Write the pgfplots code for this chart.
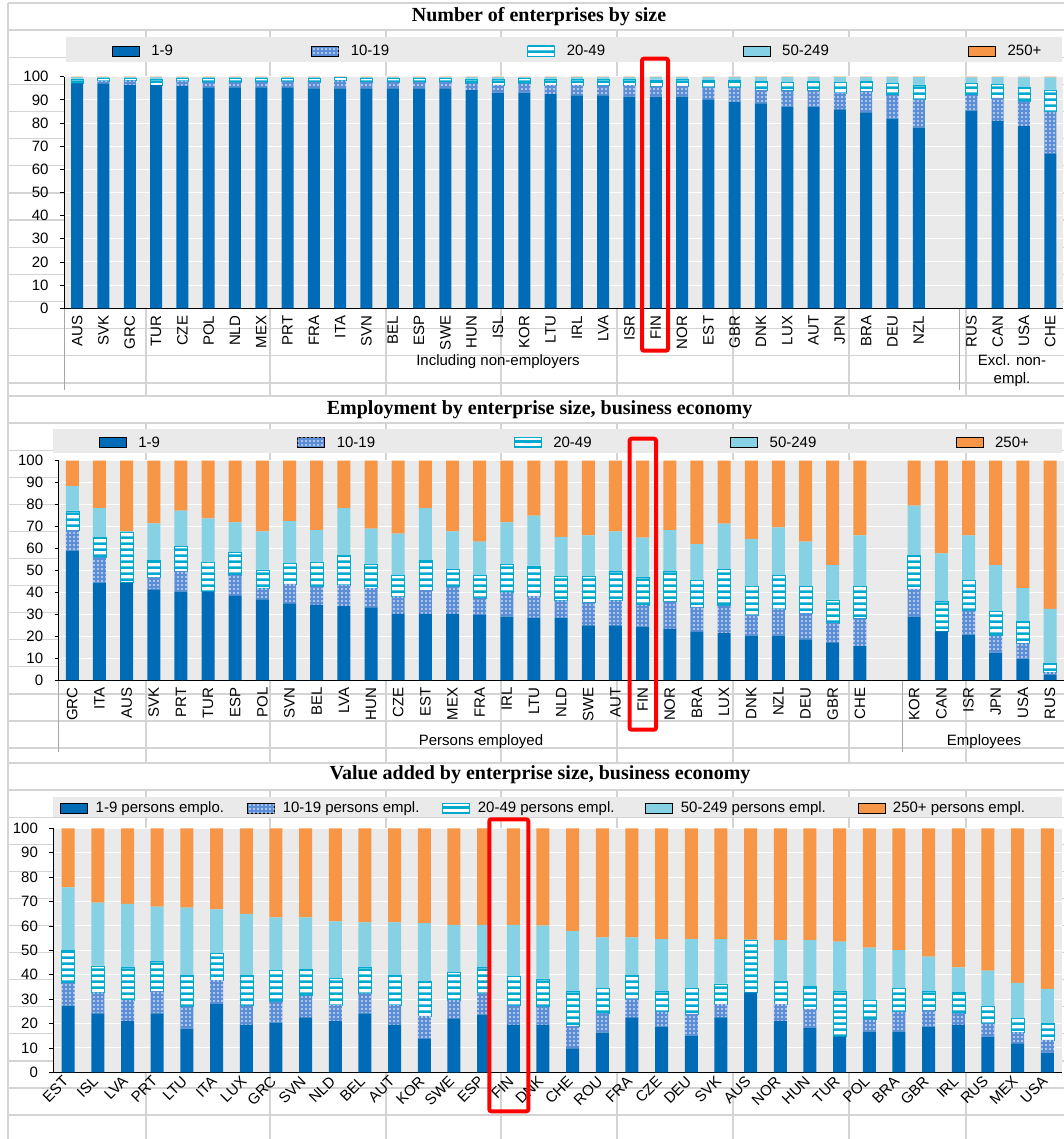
\documentclass[border=0pt]{standalone}
\usepackage{fontspec}
\setmainfont{Liberation Sans}
\newfontfamily\titlefont{Liberation Serif}
\usepackage{pgfplots}
\pgfplotsset{compat=1.18}
\usepackage{pgfplotstable}
\usetikzlibrary{patterns,patterns.meta}

\definecolor{c1}{HTML}{006BB6}
\definecolor{c2}{HTML}{5B8ED6}
\definecolor{c3}{HTML}{00A9CE}
\definecolor{c4}{HTML}{86D1E4}
\definecolor{c5}{HTML}{F79646}
\definecolor{bgc}{HTML}{EAEAEA}
\definecolor{cellc}{HTML}{D4D4D4}
\definecolor{sepc}{HTML}{A6A6A6}
\newcommand\fs{\fontsize{15}{18}\selectfont}
\newcommand\tfs{\titlefont\bfseries\fontsize{20}{24}\selectfont}

\pgfdeclarepatternformonly{hstripes}{\pgfqpoint{0pt}{0pt}}{\pgfqpoint{6pt}{6pt}}{\pgfqpoint{6pt}{6pt}}{%
  \pgfpathrectangle{\pgfqpoint{-1pt}{0pt}}{\pgfqpoint{8pt}{3pt}}\pgfusepath{fill}}
\pgfdeclarepatternformonly{wdots}{\pgfqpoint{-1pt}{-1pt}}{\pgfqpoint{5pt}{5pt}}{\pgfqpoint{4pt}{4pt}}{%
  \pgfpathcircle{\pgfqpoint{2pt}{2pt}}{0.9pt}\pgfusepath{fill}}

\pgfplotstableread{
lab x a b c d e
AUS 0 97.1 0 2.0 0.7 0.2
SVK 1 97.1 1.1 1.0 0.6 0.2
GRC 2 96.4 1.9 1.0 0.5 0.2
TUR 3 96.4 0 2.6 0.8 0.2
CZE 4 96.0 2.1 1.3 0.4 0.2
POL 5 95.4 2.2 1.6 0.6 0.2
NLD 6 95.4 2.2 1.6 0.6 0.2
MEX 7 95.4 2.4 1.5 0.5 0.2
PRT 8 95.4 2.5 1.5 0.4 0.2
FRA 9 95.0 2.8 1.5 0.5 0.2
ITA 10 95.0 3.3 1.3 0.3 0.1
SVN 11 95.0 2.7 1.6 0.5 0.2
BEL 12 95.0 2.8 1.5 0.5 0.2
ESP 13 95.0 2.7 1.6 0.5 0.2
SWE 14 95.0 2.7 1.6 0.5 0.2
HUN 15 94.2 2.9 2.0 0.7 0.2
ISL 16 93.1 3.4 2.4 0.9 0.2
KOR 17 93.1 3.9 2.2 0.6 0.2
LTU 18 92.5 4.0 2.5 0.8 0.2
IRL 19 91.9 4.6 2.5 0.8 0.2
LVA 20 91.9 4.2 2.8 0.9 0.2
ISR 21 91.4 5.0 2.5 0.9 0.2
FIN 22 91.4 4.4 2.8 1.2 0.2
NOR 23 91.4 4.6 2.7 1.1 0.2
EST 24 90.2 5.2 3.1 1.3 0.2
GBR 25 89.2 6.1 3.2 1.3 0.2
DNK 26 88.5 5.8 3.6 1.9 0.2
LUX 27 87.1 6.9 3.8 2.0 0.2
AUT 28 87.1 7.0 3.9 1.8 0.2
JPN 29 85.9 7.0 4.8 2.1 0.2
BRA 30 84.6 9.1 4.4 1.7 0.2
DEU 31 81.9 10.2 5.2 2.5 0.2
NZL 32 78.0 12.2 6.3 3.3 0.2
RUS 34 85.3 6.8 5.0 2.6 0.3
CAN 35 80.9 10.0 5.9 3.0 0.2
USA 36 78.7 10.5 6.2 4.3 0.3
CHE 37 66.9 18.0 9.4 5.4 0.3
}\tabA

\pgfplotstableread{
lab x a b c d e
GRC 0 59.0 9.4 8.7 11.3 11.6
ITA 1 44.4 11.4 9.5 13.1 21.6
AUS 2 44.4 0 23.2 0.2 32.2
SVK 3 41.3 5.5 7.9 16.7 28.6
PRT 4 40.3 9.4 11.4 16.1 22.8
TUR 5 40.3 0 13.3 20.1 26.3
ESP 6 38.4 9.5 10.3 13.7 28.1
POL 7 36.8 5.0 8.4 17.6 32.2
SVN 8 35.0 8.8 9.4 19.3 27.5
BEL 9 34.3 8.3 11.0 14.8 31.6
LVA 10 33.7 9.6 13.4 21.7 21.6
HUN 11 33.1 8.8 10.8 16.3 31.0
CZE 12 30.2 7.8 9.9 18.8 33.3
EST 13 30.2 10.8 13.7 23.7 21.6
MEX 14 30.2 12.4 8.0 17.2 32.2
FRA 15 29.6 7.6 10.7 15.2 36.9
IRL 16 28.9 11.1 12.7 19.2 28.1
LTU 17 28.4 10.0 13.6 22.9 25.1
NLD 18 28.4 7.8 10.9 18.2 34.7
SWE 19 24.9 10.4 11.8 18.9 34.0
AUT 20 24.9 11.3 13.2 18.4 32.2
FIN 21 24.3 9.9 12.5 18.2 35.1
NOR 22 23.3 12.4 13.7 19.0 31.6
BRA 23 22.0 11.4 11.9 16.7 38.0
LUX 24 21.4 12.5 16.7 20.7 28.7
DNK 25 20.2 9.4 13.3 21.4 35.7
NZL 26 20.2 12.2 15.5 21.7 30.4
DEU 27 18.5 11.9 12.2 20.5 36.9
GBR 28 17.2 8.9 10.4 15.9 47.6
CHE 29 15.5 12.6 14.5 23.4 34.0
KOR 31 28.9 12.6 15.5 22.5 20.5
CAN 32 22.2 0 13.8 21.8 42.2
ISR 33 20.7 10.9 13.7 20.7 34.0
JPN 34 12.5 7.7 11.0 21.2 47.6
USA 35 9.7 7.0 9.9 15.3 58.1
RUS 36 2.3 1.2 4.1 24.8 67.6
}\tabB

\pgfplotstableread{
lab x a b c d e
EST 0 27.3 9.4 13.2 25.9 24.2
ISL 1 24.2 8.5 10.9 25.9 30.5
LVA 2 21.0 8.6 13.4 26.0 31.0
PRT 3 24.2 9.1 12.3 22.3 32.1
LTU 4 17.9 9.0 13.0 27.6 32.5
ITA 5 27.9 9.9 11.2 17.8 33.2
LUX 6 19.4 7.9 12.6 25.0 35.1
GRC 7 20.4 8.6 12.7 21.8 36.5
SVN 8 22.5 8.9 10.9 21.2 36.5
NLD 9 21.0 6.6 10.9 23.4 38.1
BEL 10 24.2 8.2 10.6 18.5 38.5
AUT 11 19.4 8.2 12.3 21.6 38.5
KOR 12 13.7 9.4 14.3 23.7 38.9
SWE 13 22.1 7.5 11.4 19.4 39.6
ESP 14 23.6 8.8 10.6 17.4 39.6
FIN 15 19.4 7.9 11.9 21.2 39.6
DNK 16 19.4 7.5 11.4 21.8 39.9
CHE 17 9.8 9.2 14.1 24.8 42.1
ROU 18 16.3 7.9 10.2 20.9 44.7
FRA 19 22.5 7.6 9.8 15.4 44.7
CZE 20 18.7 6.2 8.4 21.3 45.4
DEU 21 15.0 8.9 10.5 20.2 45.4
SVK 22 22.5 5.4 8.3 18.4 45.4
AUS 23 32.7 0 21.5 0.2 45.6
NOR 24 21.0 6.9 9.3 17.0 45.8
HUN 25 18.3 7.7 9.1 19.1 45.8
TUR 26 14.6 0 18.5 20.5 46.4
POL 27 16.7 5.0 7.9 21.5 48.9
BRA 28 16.7 8.2 9.5 15.7 49.9
GBR 29 18.7 6.8 7.6 14.3 52.6
IRL 30 19.4 4.8 8.5 10.3 57.0
RUS 31 14.6 5.5 7.1 14.5 58.3
MEX 32 11.9 4.5 5.6 14.7 63.3
USA 33 8.1 5.2 6.8 14.1 65.8
}\tabC

\pgfplotsset{
  sw/.style={legend image code/.code={\draw[##1] (0pt,-5pt) rectangle (27pt,5pt);}},
  s1/.style={fill=c1, draw=none, sw},
  s2/.style={fill=c2, draw=none, postaction={pattern=wdots, pattern color=white}, sw},
  s3/.style={fill=white, draw=c3, line width=0.5pt, postaction={pattern=hstripes, pattern color=c3}, sw},
  s4/.style={fill=c4, draw=none, sw},
  s5/.style={fill=c5, draw=none, sw},
  panel/.style={
    scale only axis, anchor=south west,
    ybar stacked, ymin=0, ymax=100, ytick={0,10,...,100},
    enlargelimits=false,
    axis x line*=bottom, axis y line*=left,
    axis line style={black, line width=0.9pt},
    ymajorgrids, grid style={white, line width=1pt},
    axis background/.style={fill=bgc},
    xtick=data, xtick style={draw=none},
    ytick style={black, line width=0.8pt}, tick align=outside, major tick length=4pt,
    ticklabel style={font=\fs},
    yticklabel style={xshift=-8pt},
    /pgf/number format/assume math mode=true,
    legend columns=5,
    legend cell align=left,
    legend style={draw=none, fill=none, inner sep=0pt, outer sep=0pt, anchor=west, font=\fs,
      nodes={inner sep=0pt},
      /tikz/every odd column/.append style={column sep=12pt}},
    clip=false,
  },
}

\begin{document}
\begin{tikzpicture}
\useasboundingbox (0pt,0pt) rectangle (1064pt,-1139pt);
\begin{scope}[x=1pt,y=-1pt]
  \fill[white] (0,0) rectangle (1064,1139);
  \foreach \k in {0,...,14} \draw[cellc, line width=1.3pt] (8,{3+27.14*\k}) -- (1064,{3+27.14*\k});
  \foreach \k in {0,...,13} \draw[cellc, line width=1.3pt] (8,{396+27.08*\k}) -- (1064,{396+27.08*\k});
  \foreach \k in {0,...,13} \draw[cellc, line width=1.3pt] (8,{763+27.08*\k}) -- (1064,{763+27.08*\k});
  \foreach \xx in {146,270,386,501,617,733,849,966} {
    \draw[cellc, line width=1.3pt] (\xx,30) -- (\xx,396);
    \draw[cellc, line width=1.3pt] (\xx,423) -- (\xx,763);
    \draw[cellc, line width=1.3pt] (\xx,790) -- (\xx,1139);
  }
  \draw[cellc, line width=1.3pt] (8,3) -- (8,1139);
  \fill[bgc] (66,37) rectangle (1062,62);
  \fill[bgc] (53.4,429.3) rectangle (1062,452.7);
  \fill[bgc] (53.4,797.3) rectangle (1062,817.3);
\end{scope}

% Panel 1
\begin{axis}[panel, width=999.4pt, height=231.6pt, at={(64pt,-308.3pt)},
  xmin=-0.5, xmax=37.5, bar width=12pt,
  xticklabels from table={\tabA}{lab},
  xticklabel style={rotate=90, anchor=east},
  legend style={at={(0.048,1.111)}}]
\addplot[s1] table[x=x,y=a]{\tabA}; \addlegendentry{\makebox[160pt][l]{1-9}}
\addplot[s2] table[x=x,y=b]{\tabA}; \addlegendentry{\makebox[176.5pt][l]{10-19}}
\addplot[s3] table[x=x,y=c]{\tabA}; \addlegendentry{\makebox[176pt][l]{20-49}}
\addplot[s4] table[x=x,y=d]{\tabA}; \addlegendentry{\makebox[186pt][l]{50-249}}
\addplot[s5] table[x=x,y=e]{\tabA}; \addlegendentry{250+}
\end{axis}

% Panel 2
\begin{axis}[panel, width=1004.9pt, height=219.3pt, at={(58.7pt,-680pt)},
  xmin=-0.5, xmax=36.5, bar width=13pt,
  xticklabels from table={\tabB}{lab},
  xticklabel style={rotate=90, anchor=east},
  legend style={at={(0.0401,1.0821)}}]
\addplot[s1] table[x=x,y=a]{\tabB}; \addlegendentry{\makebox[159pt][l]{1-9}}
\addplot[s2] table[x=x,y=b]{\tabB}; \addlegendentry{\makebox[177pt][l]{10-19}}
\addplot[s3] table[x=x,y=c]{\tabB}; \addlegendentry{\makebox[177pt][l]{20-49}}
\addplot[s4] table[x=x,y=d]{\tabB}; \addlegendentry{\makebox[186pt][l]{50-249}}
\addplot[s5] table[x=x,y=e]{\tabB}; \addlegendentry{250+}
\end{axis}

% Panel 3
\begin{axis}[panel, width=1008.8pt, height=244pt, at={(53.4pt,-1072.3pt)},
  xmin=-0.5, xmax=33.5, bar width=13pt,
  xticklabels from table={\tabC}{lab},
  xticklabel style={rotate=45, anchor=east},
  legend style={at={(0.0068,1.0832)}, /tikz/every odd column/.append style={column sep=8pt}}]
\addplot[s1] table[x=x,y=a]{\tabC}; \addlegendentry{\makebox[151.7pt][l]{1-9 persons emplo.}}
\addplot[s2] table[x=x,y=b]{\tabC}; \addlegendentry{\makebox[159.6pt][l]{10-19 persons empl.}}
\addplot[s3] table[x=x,y=c]{\tabC}; \addlegendentry{\makebox[167.6pt][l]{20-49 persons empl.}}
\addplot[s4] table[x=x,y=d]{\tabC}; \addlegendentry{\makebox[176.7pt][l]{50-249 persons empl.}}
\addplot[s5] table[x=x,y=e]{\tabC}; \addlegendentry{250+ persons empl.}
\end{axis}

\begin{scope}[x=1pt,y=-1pt]
  \node[font=\tfs] at (539,16.7) {Number of enterprises by size};
  \node[font=\tfs] at (539.6,410) {Employment by enterprise size, business economy};
  \node[font=\tfs] at (540,775) {Value added by enterprise size, business economy};
  \draw[sepc, line width=1pt] (64,309) -- (64,390);
  \draw[sepc, line width=1pt] (959,309) -- (959,390);
  \draw[sepc, line width=1pt] (58.7,681) -- (58.7,752);
  \draw[sepc, line width=1pt] (902,681) -- (902,752);
  \node[font=\fs] at (498,362) {Including non-employers};
  \node[font=\fs, align=center] at (1012,371) {Excl. non-\\empl.};
  \node[font=\fs] at (481,742) {Persons employed};
  \node[font=\fs] at (984,742) {Employees};
  \draw[red, line width=4pt, rounded corners=2pt] (642,58.7) rectangle (668,350.7);
  \draw[red, line width=4pt, rounded corners=2pt] (629.6,438.7) rectangle (656,729.7);
  \draw[red, line width=4pt, rounded corners=2pt] (489.3,819.3) rectangle (528.3,1111.3);
\end{scope}
\end{tikzpicture}
\end{document}
